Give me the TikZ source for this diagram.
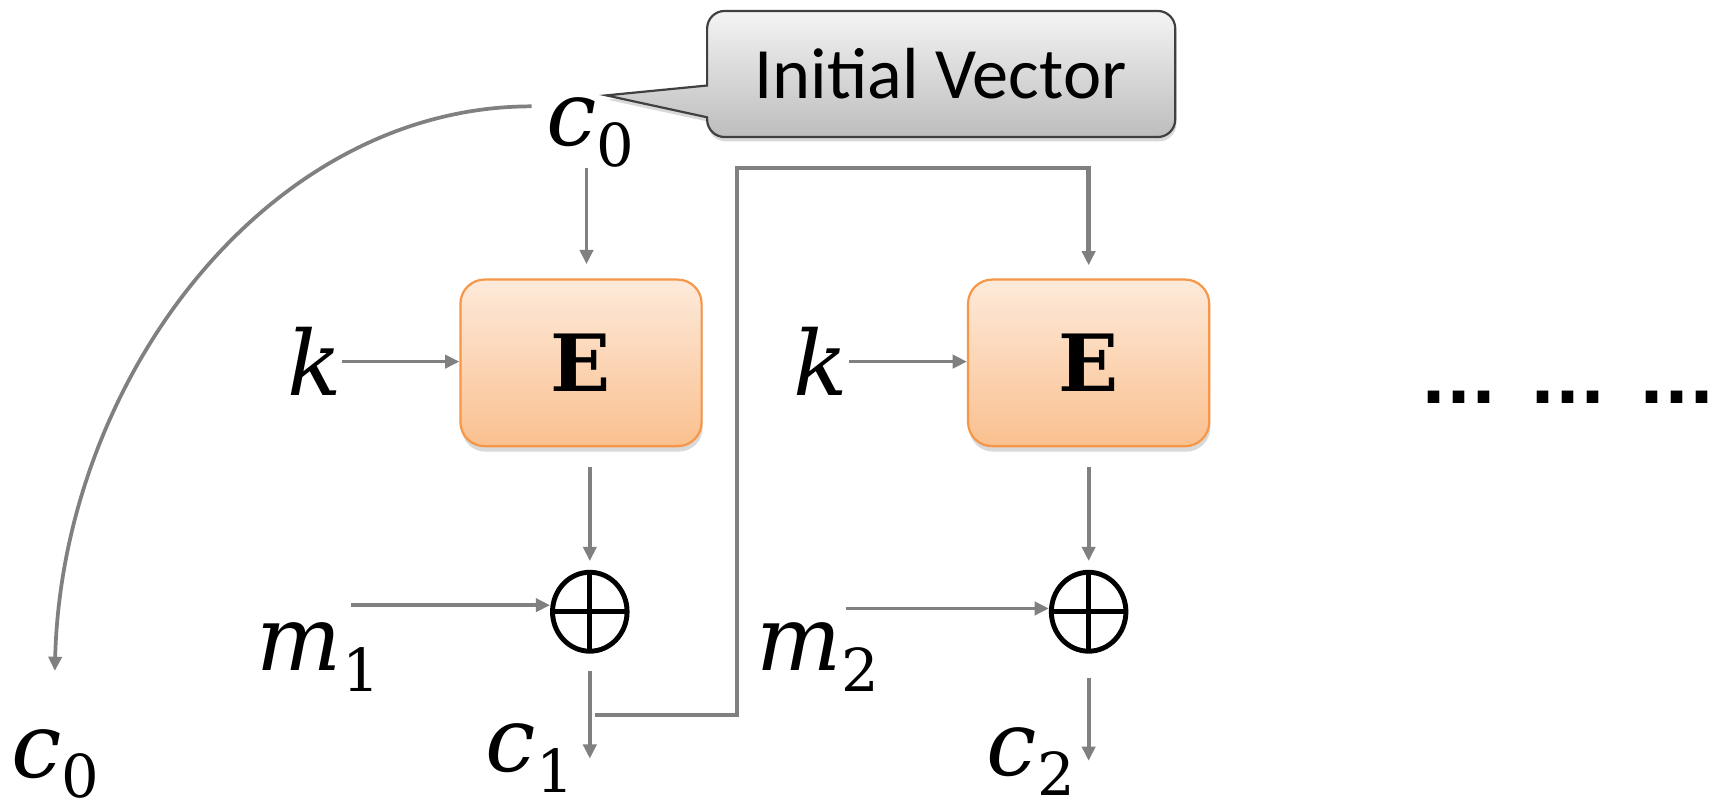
\RequirePackage{fix-cm}
\documentclass[tikz,border=0pt]{standalone}
\usepackage{fontspec}
\newfontfamily\calib{Carlito}
\newfontfamily\dvs{DejaVu Serif}
\newfontfamily\dvsans{DejaVu Sans}
\usetikzlibrary{arrows.meta,shadows,shapes.geometric}
\definecolor{arrgray}{HTML}{808080}
\definecolor{etop}{HTML}{FDEADA}
\definecolor{ebot}{HTML}{FAC08F}
\definecolor{eborder}{HTML}{F79646}
\definecolor{ctop}{HTML}{F4F4F4}
\definecolor{cbot}{HTML}{BDBDBD}
\definecolor{cborder}{HTML}{404040}
\newcommand{\vsym}[2]{{\itshape #1}\raisebox{-0.23em}{\fontsize{54}{54}\selectfont #2}}
\begin{document}
\begin{tikzpicture}[x=1pt,y=1pt,
  arr/.style={draw=arrgray, line width=3.4pt, -{Triangle[length=13pt,width=12pt]}},
  fbarr/.style={arr, line width=4pt},
  ebox/.style={draw=eborder, line width=2pt, rounded corners=22pt,
    minimum width=220pt, minimum height=152pt, top color=etop, bottom color=ebot,
    drop shadow={shadow xshift=1pt, shadow yshift=-5pt, opacity=0.3}},
  mlbl/.style={font=\dvs\fontsize{82}{90}\selectfont, inner sep=0pt, anchor=base west},
  xorn/.style={ellipse, draw=black, line width=4.5pt, minimum width=68pt, minimum height=72pt, inner sep=0pt,
    path picture={\draw[line width=4.5pt] (path picture bounding box.north) -- (path picture bounding box.south)
      (path picture bounding box.west) -- (path picture bounding box.east);}}
]
\useasboundingbox (0,0) rectangle (1568,-732.5);

% callout
\path[draw=cborder, line width=2pt, top color=ctop, bottom color=cbot,
  drop shadow={shadow xshift=1pt, shadow yshift=-4pt, opacity=0.3}]
  (645,-107) -- (645,-109) arc[start angle=180, end angle=270, radius=16]
  -- (1056,-125) arc[start angle=270, end angle=360, radius=16]
  -- (1072,-26) arc[start angle=0, end angle=90, radius=16]
  -- (661,-10) arc[start angle=90, end angle=180, radius=16]
  -- (645,-78) -- (553,-87) -- cycle;
\node[font=\calib\fontsize{66}{70}\selectfont] (iv) at (858,-67) {Initial Vector};

% labels
\node[mlbl] (c0top) at (498,-133) {\vsym{c}{0}};
\node[mlbl] (c0bot) at (10,-709) {\vsym{c}{0}};
\node[mlbl] (k1) at (262,-361) {\itshape k};
\node[mlbl] (k2) at (724,-361) {\itshape k};
\node[mlbl] (m1) at (234,-612) {\vsym{m}{1}};
\node[mlbl] (m2) at (690,-612) {\vsym{m}{2}};
\node[mlbl] (c1) at (443,-704) {\vsym{c}{1}};
\node[mlbl] (c2) at (900,-707) {\vsym{c}{2}};

% boxes
\node[ebox] (E1) at (530,-331) {\dvs\bfseries\fontsize{72}{76}\selectfont E};
\node[ebox] (E2) at (993,-331) {\dvs\bfseries\fontsize{72}{76}\selectfont E};

% xor
\node[xorn] (x1) at (538,-558) {};
\node[xorn] (x2) at (993,-558) {};

% dots
\node[font=\dvsans\bfseries\fontsize{60}{64}\selectfont] (dots) at (1430,-362) {...\hspace{31pt}...\hspace{31pt}...};

% connectors
\coordinate (arcS) at (485,-97);
\coordinate (arcE) at (50,-612);
\draw[arr] (arcS) .. controls (245,-97) and (57,-345) .. (arcE);
\draw[arr, shorten >=13pt] ([xshift=5pt]c0top.south -| E1.north) -- ([xshift=5pt]E1.north);
\draw[arr] (k1.east) -- (k1.east -| E1.west);
\draw[arr] (k2.east) -- (k2.east -| E2.west);
\draw[arr, shorten <=18pt, shorten >=8pt] (E1.south -| x1.north) -- (x1.north);
\draw[arr, shorten <=18pt, shorten >=8pt] (E2.south -| x2.north) -- (x2.north);
\coordinate (m1a) at (320,-552);
\coordinate (m2a) at (772,-555);
\draw[arr] (m1a) -- (m1a -| x1.west);
\draw[arr] (m2a) -- (m2a -| x2.west);
\draw[arr, shorten <=16pt] (x1.south) -- ([yshift=12pt]x1.south |- c1.base);
\draw[arr, shorten <=22pt] (x2.south) -- ([yshift=13pt]x2.south |- c2.base);
\coordinate (fb) at (543,-652);
\coordinate (t1) at (672,-153);
\draw[fbarr, shorten >=12pt] (fb) -| (t1) -| (E2.north);
\end{tikzpicture}
\end{document}
